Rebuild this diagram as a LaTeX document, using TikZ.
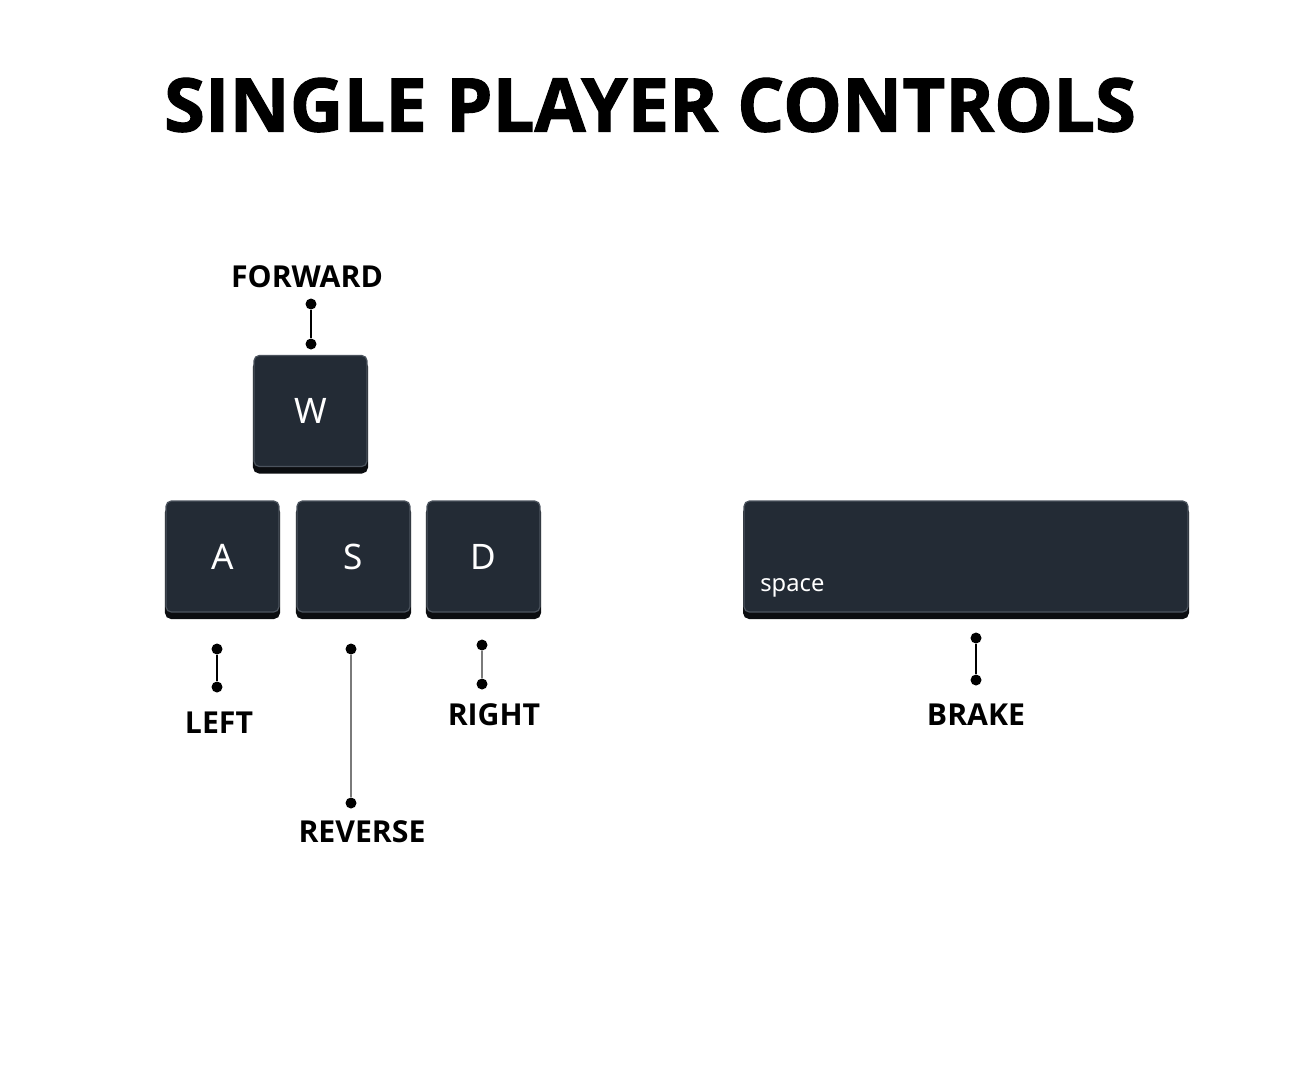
\documentclass[tikz,border=0pt]{standalone}
\usepackage{fontspec}
\setmainfont{Open Sans}
\newfontfamily\keyfont{Noto Sans}
\newfontfamily\titlefont{Open Sans}[FakeBold=1.5]
\usetikzlibrary{positioning,shadows}

\definecolor{keyfill}{HTML}{232B35}
\definecolor{keyedge}{HTML}{4B535D}
\definecolor{keyshadow}{HTML}{0B0D10}
\definecolor{wiregray}{HTML}{7A7A7A}

\tikzset{
  key/.style={draw=keyedge, line width=0.7pt, fill=keyfill, rounded corners=3pt,
    minimum width=2.26cm, minimum height=2.22cm, inner sep=0pt, text=white,
    font=\keyfont\fontsize{20}{20}\selectfont,
    drop shadow={shadow xshift=0pt, shadow yshift=-0.12cm, opacity=1,
      fill=keyshadow, draw=keyshadow, line width=1.2pt}},
  pindot/.style={circle, fill=black, inner sep=0pt, minimum size=0.22cm},
  wire/.style={line width=0.8pt},
  lbl/.style={font=\bfseries\fontsize{17.2}{18}\selectfont},
}

\begin{document}
\begin{tikzpicture}[x=0.02cm,y=-0.02cm]
\useasboundingbox (0,0) rectangle (1300,1080);

% Titel
\node[font=\titlefont\bfseries\fontsize{42.2}{43}\selectfont] (title) at (650,105) {SINGLE PLAYER CONTROLS};

% Tasten
\node[key] (w) at (310.5,411) {W};
\node[key] (a) at (222.5,556.5) {A};
\node[key] (s) at (353.5,556.5) {S};
\node[key] (d) at (483.5,556.5) {D};
\node[key, minimum width=8.88cm] (space) at (966,556.5) {};
\node[anchor=base west, text=white, inner sep=0pt, font=\keyfont\fontsize{13.5}{14}\selectfont] (spacetxt) at (760,591) {space};

% Vorwaerts
\node[lbl] (forward) at (307,277) {FORWARD};
\node[pindot] (fw1) at (311,304) {};
\node[pindot] (fw2) at (311,344) {};
\draw[wire] (fw1) -- (fw2);

% Links
\node[pindot] (lf1) at (217,649) {};
\node[pindot] (lf2) at (217,687) {};
\draw[wire] (lf1) -- (lf2);
\node[lbl] (left) at (219,723) {LEFT};

% Rueckwaerts
\node[pindot] (rv1) at (351,649) {};
\node[pindot] (rv2) at (351,803) {};
\draw[wire, wiregray] (rv1) -- (rv2);
\node[lbl] (reverse) at (362,832) {REVERSE};

% Rechts
\node[pindot] (rt1) at (482,645) {};
\node[pindot] (rt2) at (482,684) {};
\draw[wire, wiregray] (rt1) -- (rt2);
\node[lbl] (right) at (494,715) {RIGHT};

% Bremse
\node[pindot] (bk1) at (976,638) {};
\node[pindot] (bk2) at (976,680) {};
\draw[wire] (bk1) -- (bk2);
\node[lbl] (brake) at (976,715) {BRAKE};

\end{tikzpicture}
\end{document}
